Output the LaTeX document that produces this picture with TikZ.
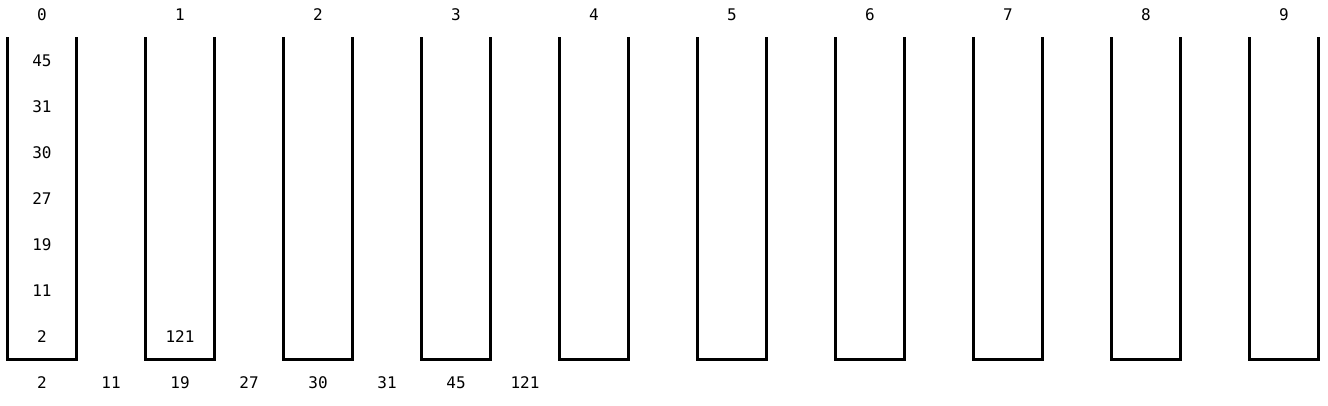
\documentclass[tikz,border=0pt]{standalone}
\usepackage{fontspec}
\setmonofont{DejaVu Sans Mono}
\begin{document}
\begin{tikzpicture}[x=1pt,y=-1pt,
  lbl/.style={font=\ttfamily\fontsize{16}{16}\selectfont, inner sep=0pt, anchor=center},
  wall/.style={line width=3pt, line join=miter, line cap=butt}]
\useasboundingbox (0,0) rectangle (1328,405);
\foreach \k in {0,...,9}{
  \node[lbl] (h\k) at ({42+138*\k},15) {\k};
  \draw[wall] ({7.5+138*\k},37) -- ({7.5+138*\k},359) -- ({76.5+138*\k},359) -- ({76.5+138*\k},37);
}
\foreach \v [count=\i from 0] in {45,31,30,27,19,11,2}{
  \node[lbl] (b0r\i) at (42,{61+46*\i}) {\v};
}
\node[lbl] (b1r6) at (180,337) {121};
\foreach \v [count=\i from 0] in {2,11,19,27,30,31,45,121}{
  \node[lbl] (o\i) at ({42+69*\i},383) {\v};
}
\end{tikzpicture}
\end{document}
